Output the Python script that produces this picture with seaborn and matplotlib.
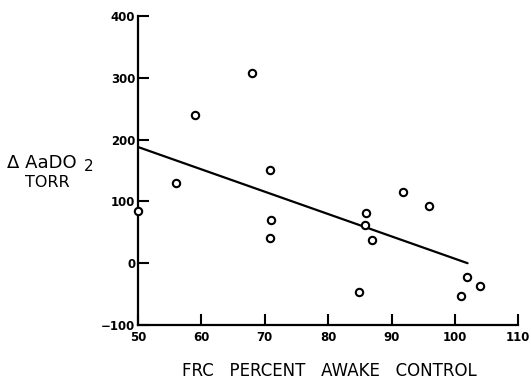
import matplotlib
matplotlib.use("Agg")
import matplotlib.pyplot as plt
import seaborn as sns
import pandas as pd

# FRC (% awake control) vs change in AaDO2 (torr)
frc = [50, 56, 59, 68, 70.8, 71, 70.9, 84.8, 85.9, 85.8, 86.9, 91.8, 95.9, 100.9, 101.9, 103.9]
daado2 = [84, 129, 239, 308, 151, 70, 41, -47, 81, 61, 38, 116, 92, -53, -23, -37]

# fitted line end points
fit_x = [50, 102]
fit_y = [188, 0]

x_ticks = [50, 60, 70, 80, 90, 100, 110]
y_ticks = [-100, 0, 100, 200, 300, 400]

df = pd.DataFrame({"frc": frc, "daado2": daado2})
fit = pd.DataFrame({"x": fit_x, "y": fit_y})

sns.set_style("ticks")
plt.rcParams["font.family"] = ["DejaVu Sans"]
plt.rcParams.update({"text.color": "black", "axes.labelcolor": "black",
                     "xtick.color": "black", "ytick.color": "black",
                     "axes.edgecolor": "black"})

fig = plt.figure(figsize=(5.31, 3.81), dpi=100)
ax = fig.add_axes([0.26, 0.147, 0.716, 0.811])

sns.lineplot(data=fit, x="x", y="y", ax=ax, color="black", linewidth=1.6, zorder=2)
sns.scatterplot(data=df, x="frc", y="daado2", ax=ax, marker="o", s=28,
                facecolor="white", edgecolor="black", linewidth=1.5, zorder=3,
                clip_on=False)

ax.set_xlim(50, 110)
ax.set_ylim(-100, 400)
ax.set_xticks(x_ticks)
ax.set_yticks(y_ticks)
ax.set_xticklabels([str(t) for t in x_ticks], fontsize=8.5, fontweight="bold")
ax.set_yticklabels(["\u2212100" if t < 0 else str(t) for t in y_ticks],
                   fontsize=8.5, fontweight="bold")
ax.tick_params(direction="in", length=8, width=1.5, pad=2)
ax.tick_params(axis="x", pad=4)
sns.despine(ax=ax)
for s in ["left", "bottom"]:
    ax.spines[s].set_linewidth(1.6)

ax.set_xlabel("")
ax.set_ylabel("")
fig.text(0.014, 0.572, "\u0394 AaDO", ha="left", va="center", fontsize=13)
fig.text(0.158, 0.562, "2", ha="left", va="center", fontsize=11)
fig.text(0.09, 0.52, "TORR", ha="center", va="center", fontsize=11.5)
fig.text(0.621, 0.025, "FRC   PERCENT   AWAKE   CONTROL", ha="center", va="center",
         fontsize=12)

fig.savefig("out.png", dpi=100)
